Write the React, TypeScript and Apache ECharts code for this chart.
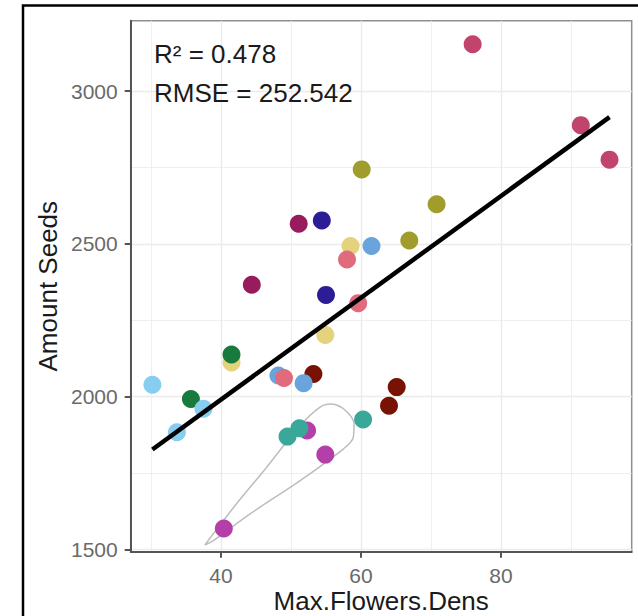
import React, { useEffect, useRef } from "react";
import * as echarts from "echarts";

// ---- data ----
const flowersDens = [
  75.95, 91.4, 95.5,
  60.1, 70.8, 66.9,
  54.4, 51.1, 58.5, 61.5, 58.0, 44.4, 55.0, 59.6, 54.9,
  41.5, 41.5,
  30.2, 48.2, 49.0, 53.2, 51.8,
  35.7, 37.5, 33.7,
  65.1, 64.0, 60.3,
  52.3, 49.5, 51.2, 54.9, 40.4,
];
const amountSeeds = [
  3154, 2889, 2776,
  2744, 2630, 2511,
  2577, 2566, 2493, 2493, 2449, 2366, 2333, 2306, 2202,
  2112, 2138,
  2039, 2069, 2061, 2074, 2044,
  1992, 1960, 1883,
  2031, 1970, 1925,
  1889, 1869, 1896, 1810, 1568,
];
const siteGroup = [
  "A", "A", "A",
  "B", "B", "B",
  "C", "D", "E", "F", "G", "D", "C", "G", "E",
  "E", "H",
  "I", "F", "G", "J", "F",
  "H", "I", "I",
  "J", "J", "K",
  "L", "K", "K", "L", "L",
];

const xTicks = [40, 60, 80];
const xMinorGrid = [30, 50, 70, 90];
const yTicks = [1500, 2000, 2500, 3000];
const yMinorGrid = [1750, 2250, 2750];

const fitIntercept = 1323.4;
const fitSlope = 16.67;
const rSquaredText = "R² = 0.478";
const rmseText = "RMSE = 252.542";

// outline of the grey data contour (data units)
const contourX = [37.7, 41.8, 46.5, 51.3, 54.1, 55.6, 57.5, 59.0, 58.9, 57.5, 51.3, 44.1, 38.9, 37.7];
const contourY = [1514, 1637, 1768, 1905, 1965, 1976, 1960, 1910, 1867, 1829, 1725, 1615, 1528, 1514];

// ---- styles ----
const groupColors: Record<string, string> = {
  A: "#c0446c",
  B: "#a09d2d",
  C: "#2c1d97",
  D: "#981b5c",
  E: "#e5d27c",
  F: "#6aa4dd",
  G: "#e06b7c",
  H: "#187a3c",
  I: "#87cdef",
  J: "#771204",
  K: "#3aa898",
  L: "#b53fa8",
};

const FONT = '"Liberation Sans", Arial, Helvetica, sans-serif';

export default function App() {
  const ref = useRef<HTMLDivElement>(null);

  useEffect(() => {
    if (!ref.current) return;
    const chart = echarts.init(ref.current, undefined, { renderer: "svg" });

    const points = flowersDens.map((x, i) => ({
      value: [x, amountSeeds[i]],
      itemStyle: { color: groupColors[siteGroup[i]], opacity: 1 },
    }));
    const xMin = Math.min(...flowersDens);
    const xMax = Math.max(...flowersDens);
    const fitLine = [
      [xMin, fitIntercept + fitSlope * xMin],
      [xMax, fitIntercept + fitSlope * xMax],
    ];
    const contour = contourX.map((x, i) => [x, contourY[i]]);

    const gridLineData = [
      ...xMinorGrid.map((v) => ({ xAxis: v, lineStyle: { width: 0.8 } })),
      ...yMinorGrid.map((v) => ({ yAxis: v, lineStyle: { width: 0.8 } })),
      ...xTicks.map((v) => ({ xAxis: v, lineStyle: { width: 1.4 } })),
      ...yTicks.map((v) => ({ yAxis: v, lineStyle: { width: 1.4 } })),
    ];

    const axisCommon = {
      type: "value" as const,
      splitLine: { show: false },
      axisLine: { show: true, onZero: false, lineStyle: { color: "#555555", width: 2 } },
      nameLocation: "middle" as const,
      nameMoveOverlap: false,
      nameTextStyle: { fontSize: 26, color: "#1a1a1a", fontFamily: FONT },
    };

    chart.setOption({
      animation: false,
      backgroundColor: "#ffffff",
      grid: {
        left: 130.7,
        top: 20.7,
        right: 6.3,
        bottom: 64.3,
        outerBoundsMode: "none",
        containLabel: false,
        show: true,
        borderColor: "#8f8f8f",
        borderWidth: 1.5,
        backgroundColor: "#ffffff",
      },
      xAxis: {
        ...axisCommon,
        min: 27.1,
        max: 98.67,
        name: "Max.Flowers.Dens",
        nameGap: 36,
        nameTextStyle: { fontSize: 26, color: "#1a1a1a", fontFamily: FONT, lineHeight: 26 },
        axisTick: {
          show: true,
          length: 6,
          customValues: xTicks,
          lineStyle: { color: "#555555", width: 2 },
        },
        axisLabel: {
          customValues: xTicks,
          color: "#6a6a6a",
          fontSize: 21,
          fontFamily: FONT,
          margin: 13,
          formatter: (v: number) => String(v),
        },
      },
      yAxis: {
        ...axisCommon,
        min: 1492,
        max: 3231,
        name: "Amount Seeds",
        nameGap: 70,
        axisTick: {
          show: true,
          length: 6,
          customValues: yTicks,
          lineStyle: { color: "#555555", width: 2 },
        },
        axisLabel: {
          customValues: yTicks,
          color: "#6a6a6a",
          fontSize: 21,
          fontFamily: FONT,
          margin: 13,
          formatter: (v: number) => String(v),
        },
      },
      series: [
        {
          type: "scatter",
          data: [],
          z: 0,
          silent: true,
          markLine: {
            z: 0,
            silent: true,
            symbol: ["none", "none"],
            label: { show: false },
            lineStyle: { color: "#ebebeb", type: "solid" },
            data: gridLineData,
          },
        },
        {
          type: "line",
          data: contour,
          smooth: 0.35,
          symbol: "none",
          z: 2,
          lineStyle: { color: "#bdbdbd", width: 1.5 },
        },
        {
          type: "scatter",
          data: points,
          symbolSize: 18,
          z: 3,
        },
        {
          type: "line",
          data: fitLine,
          symbol: "none",
          z: 4,
          lineStyle: { color: "#000000", width: 4.5 },
        },
      ],
      graphic: [
        {
          type: "rect",
          z: 100,
          shape: { x: 23, y: 5.5, width: 640, height: 640 },
          style: { fill: "none", stroke: "#000000", lineWidth: 2.5 },
          silent: true,
        },
        {
          type: "text",
          z: 100,
          x: 154,
          y: 54,
          style: {
            text: rSquaredText,
            fontSize: 26,
            fontFamily: FONT,
            fill: "#1a1a1a",
            verticalAlign: "middle",
          },
        },
        {
          type: "text",
          z: 100,
          x: 154,
          y: 93,
          style: {
            text: rmseText,
            fontSize: 26,
            fontFamily: FONT,
            fill: "#1a1a1a",
            verticalAlign: "middle",
          },
        },
      ],
    });

    return () => chart.dispose();
  }, []);

  return (
    <div
      ref={ref}
      style={{ position: "absolute", left: 0, top: 0, width: 638, height: 616 }}
    />
  );
}
